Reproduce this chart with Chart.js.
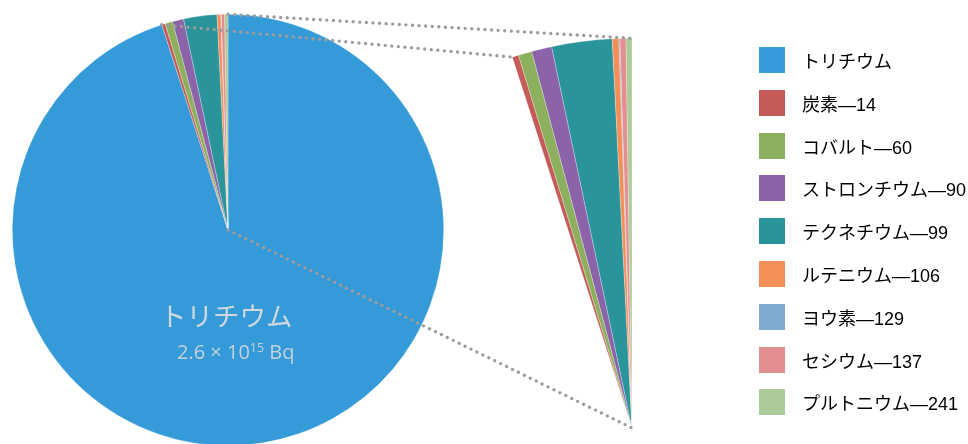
<!DOCTYPE html>
<html><head><meta charset="utf-8">
<script src="https://cdn.jsdelivr.net/npm/chart.js@4"></script>
<style>
html,body{margin:0;padding:0;width:968px;height:444px;overflow:hidden;background:#fff;}
#wrap{position:relative;width:968px;height:444px;overflow:hidden;}
canvas{position:absolute;}
#mainC{left:0;top:0;}
#zoomC{left:232px;top:28px;}
#over{left:0;top:0;pointer-events:none;}
#legend{position:absolute;left:759px;top:47px;font-family:"Liberation Sans","Noto Sans CJK JP",sans-serif;font-size:18px;color:#000;}
.row{position:relative;height:42.8px;}
.sw{position:absolute;left:0;top:0;width:26px;height:26px;}
.lt{position:absolute;left:43px;top:2px;line-height:26px;white-space:nowrap;}
#lab1{position:absolute;left:160px;top:295px;font-family:"Noto Sans CJK JP",sans-serif;font-size:26.5px;color:#d0d8de;line-height:40px;white-space:nowrap;}
#lab2{position:absolute;left:177px;top:337px;font-family:"Open Sans","Noto Sans",sans-serif;font-size:20px;color:#c6d1da;line-height:30px;white-space:nowrap;}
#lab2 sup{font-size:12.5px;vertical-align:7px;line-height:0;}
</style></head>
<body>
<div id="wrap">
<canvas id="mainC" width="456" height="460"></canvas>
<canvas id="zoomC" width="800" height="800"></canvas>
<canvas id="over" width="968" height="444"></canvas>
<div id="lab1">トリチウム</div>
<div id="lab2">2.6 × 10<sup>15</sup> Bq</div>
<div id="legend"></div>
</div>
<script>
// Radioactivity (units of 10^12 Bq)
const nuclides = ["トリチウム","炭素—14","コバルト—60","ストロンチウム—90","テクネチウム—99","ルテニウム—106","ヨウ素—129","セシウム—137","プルトニウム—241"];
const activity = [2600, 7.2, 15.4, 22.9, 68.3, 7.5, 1.1, 6.8, 6.7];
const colors = ["#359ad8","#c55b58","#8db05e","#8b63a9","#2a949b","#f68f57","#7eaacf","#e38e92","#adca99"];

Chart.defaults.animation = false;

const mainChart = new Chart(document.getElementById('mainC'), {
  type: 'pie',
  data: { labels: nuclides, datasets: [{ data: activity, backgroundColor: colors,
    borderColor: 'rgba(255,255,255,0.45)', borderWidth: 0.6 }] },
  options: { responsive: false, animation: false,
    layout: { padding: { left: 12, right: 12, top: 14, bottom: 14 } },
    plugins: { legend: { display: false }, tooltip: { enabled: false } } }
});

const zoomColors = colors.map((c, i) => i === 0 ? 'rgba(0,0,0,0)' : c);
const zoomChart = new Chart(document.getElementById('zoomC'), {
  type: 'pie',
  data: { labels: nuclides, datasets: [{ data: activity, backgroundColor: zoomColors,
    borderColor: 'rgba(255,255,255,0.45)', borderWidth: activity.map((v, i) => i === 0 ? 0 : 0.6) }] },
  options: { responsive: false, animation: false,
    layout: { padding: 10 },
    plugins: { legend: { display: false }, tooltip: { enabled: false } } }
});

// legend
const lg = document.getElementById('legend');
nuclides.forEach((n, i) => {
  const r = document.createElement('div'); r.className = 'row';
  const s = document.createElement('div'); s.className = 'sw'; s.style.background = colors[i];
  const t = document.createElement('div'); t.className = 'lt'; t.textContent = n;
  r.appendChild(s); r.appendChild(t); lg.appendChild(r);
});

// dotted connector lines derived from the arc geometry
function drawConnectors() {
  const ov = document.getElementById('over').getContext('2d');
  const mc = document.getElementById('mainC'), zc = document.getElementById('zoomC');
  const mOff = { x: mc.offsetLeft, y: mc.offsetTop }, zOff = { x: zc.offsetLeft, y: zc.offsetTop };
  const mArcs = mainChart.getDatasetMeta(0).data, zArcs = zoomChart.getDatasetMeta(0).data;
  const last = activity.length - 1;
  const pt = (arc, off, ang) => ({ x: off.x + arc.x + arc.outerRadius * Math.cos(ang), y: off.y + arc.y + arc.outerRadius * Math.sin(ang) });
  const segs = [
    [pt(mArcs[1], mOff, mArcs[1].startAngle), pt(zArcs[1], zOff, zArcs[1].startAngle)],
    [pt(mArcs[last], mOff, mArcs[last].endAngle), pt(zArcs[last], zOff, zArcs[last].endAngle)],
    [{ x: mOff.x + mArcs[0].x, y: mOff.y + mArcs[0].y }, { x: zOff.x + zArcs[0].x, y: zOff.y + zArcs[0].y }]
  ];
  ov.strokeStyle = '#9c9c9c'; ov.lineWidth = 3.4; ov.lineCap = 'round'; ov.setLineDash([0, 6.6]);
  segs.forEach(([a, b]) => { ov.beginPath(); ov.moveTo(a.x, a.y); ov.lineTo(b.x, b.y); ov.stroke(); });
}
drawConnectors();
</script>
</body></html>
